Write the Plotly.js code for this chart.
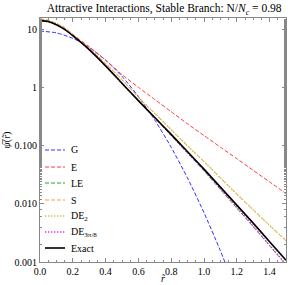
<!DOCTYPE html>
<html><head><meta charset="utf-8">
<script src="https://cdn.plot.ly/plotly-3.0.1.min.js"></script>
<style>html,body{margin:0;padding:0;background:#fff}#c{width:288px;height:285px}</style>
</head><body><div id="c"></div>
<script>
var r = [0, 0.05, 0.1, 0.15, 0.2, 0.3, 0.4, 0.5, 0.6, 0.7, 0.8, 0.9, 1.0, 1.1, 1.2, 1.3, 1.4, 1.5];
var rG = [0, 0.1, 0.2, 0.3, 0.4, 0.5, 0.6, 0.7, 0.8, 0.9, 1.0, 1.1, 1.2];
var psiG = [9.55, 8.89, 7.16, 4.99, 3.01, 1.58, 0.713, 0.279, 0.0948, 0.0279, 0.00708, 0.00156, 0.000297];
var psiE = [15.49, 14.3, 12.59, 10.7, 8.32, 5.13, 3.02, 1.70, 1.023, 0.631, 0.389, 0.240, 0.151, 0.0955, 0.0603, 0.0380, 0.0240, 0.0151];
var psiLE = [14.45, 13.96, 12.30, 10.2, 7.94, 4.57, 2.40, 1.20, 0.596, 0.302, 0.151, 0.0750, 0.0372, 0.0178, 0.00851, 0.00407, 0.00191, 0.000891];
var psiS = [15.49, 14.6, 12.88, 10.9, 8.32, 4.79, 2.63, 1.38, 0.692, 0.363, 0.191, 0.100, 0.0537, 0.0282, 0.0148, 0.00794, 0.00427, 0.00234];
var psiDE2 = [15.49, 14.6, 12.88, 10.9, 8.32, 4.79, 2.63, 1.38, 0.692, 0.363, 0.191, 0.100, 0.0537, 0.0282, 0.0148, 0.00794, 0.00427, 0.00234];
var psiDE3 = [14.45, 13.96, 12.30, 10.2, 7.94, 4.57, 2.40, 1.20, 0.598, 0.304, 0.153, 0.0759, 0.0380, 0.0182, 0.00871, 0.00417, 0.00195, 0.000912];
var psiExact = [14.45, 13.96, 12.30, 10.2, 7.94, 4.57, 2.40, 1.20, 0.603, 0.309, 0.158, 0.0794, 0.0398, 0.0195, 0.00955, 0.00468, 0.00224, 0.00107];
var names = ['G', 'E', 'LE', 'S', 'DE<sub>2</sub>', 'DE<sub>3π/8</sub>', 'Exact'];
var colors = ['#3030ff', '#ff3a3a', '#2aa02a', '#ff9a4a', '#c4c24a', '#ee22ee', '#000000'];
var dashes = ['4px,2px', '4px,2px', '4px,2px', '4px,2px', '1.3px,1.7px', '1.3px,1.7px', 'solid'];
var widths = [1, 1, 1, 1, 1.3, 1.3, 1.6];
var yTickVals = [0.001, 0.01, 0.1, 1, 10];
var yTickText = ['0.001', '0.010', '0.100', '1', '10'];
var xTickVals = [0, 0.2, 0.4, 0.6, 0.8, 1.0, 1.2, 1.4];
var xTickText = ['0.0', '0.2', '0.4', '0.6', '0.8', '1.0', '1.2', '1.4'];

var xs = [rG, r, r, r, r, r, r];
var ys = [psiG, psiE, psiLE, psiS, psiDE2, psiDE3, psiExact];
var data = [];
for (var i = 0; i < names.length; i++) {
  data.push({x: xs[i], y: ys[i], name: names[i], type: 'scatter', mode: 'lines', showlegend: false,
    line: {color: colors[i], dash: dashes[i], width: widths[i], shape: 'spline', smoothing: 0.6}});
}
// manual legend (plot area: x 40..286 px, y 18..262 px)
var shapes = [], annotations = [];
var legY = [150, 167, 183, 200, 216, 232, 248];
for (var i = 0; i < names.length; i++) {
  var yp = (262 - legY[i]) / 244;
  shapes.push({type: 'line', xref: 'paper', yref: 'paper', x0: 5 / 246, x1: 25 / 246, y0: yp, y1: yp,
    line: {color: colors[i], dash: dashes[i], width: widths[i]}});
  annotations.push({xref: 'paper', yref: 'paper', x: 29 / 246, y: yp, xanchor: 'left', yanchor: 'middle',
    text: names[i], showarrow: false, font: {size: 10, color: '#000'}});
}
// x-axis title placed as annotation below tick labels
annotations.push({xref: 'paper', yref: 'paper', x: 0.5, y: (262 - 278) / 244, xanchor: 'center', yanchor: 'middle',
  text: '<i>r̃</i>', showarrow: false, font: {size: 10, color: '#000'}});
var axcol = '#888888';
var layout = {
  width: 288, height: 285,
  margin: {l: 40, r: 2, t: 18, b: 23},
  paper_bgcolor: '#fff', plot_bgcolor: '#fff',
  font: {family: 'Liberation Serif, serif', size: 10, color: '#000'},
  title: {text: 'Attractive Interactions, Stable Branch: N/<i>N<sub>c</sub></i> = 0.98',
    font: {family: 'Liberation Serif, serif', size: 11.5, color: '#000'},
    x: 0.57, xanchor: 'center', y: 0.985, yanchor: 'top'},
  xaxis: {range: [0, 1.5], tickvals: xTickVals, ticktext: xTickText,
    showline: true, linecolor: axcol, linewidth: 1, mirror: 'ticks',
    ticks: 'inside', ticklen: 4, tickcolor: axcol, showgrid: false, zeroline: false,
    minor: {dtick: 0.05, ticks: 'inside', ticklen: 2, tickcolor: axcol, showgrid: false},
    tickfont: {size: 10}},
  yaxis: {type: 'log', range: [-3, 1.205], tickvals: yTickVals, ticktext: yTickText,
    showline: true, linecolor: axcol, linewidth: 1, mirror: 'ticks',
    ticks: 'inside', ticklen: 4, tickcolor: axcol, showgrid: false, zeroline: false,
    minor: {ticks: 'inside', ticklen: 2, tickcolor: axcol, showgrid: false},
    tickfont: {size: 10},
    title: {text: '<i>ψ\u0305</i>(<i>r̃</i>)', font: {size: 10}, standoff: 2}},
  shapes: shapes,
  annotations: annotations,
  showlegend: false
};
Plotly.newPlot('c', data, layout, {staticPlot: true, displayModeBar: false});
</script></body></html>
